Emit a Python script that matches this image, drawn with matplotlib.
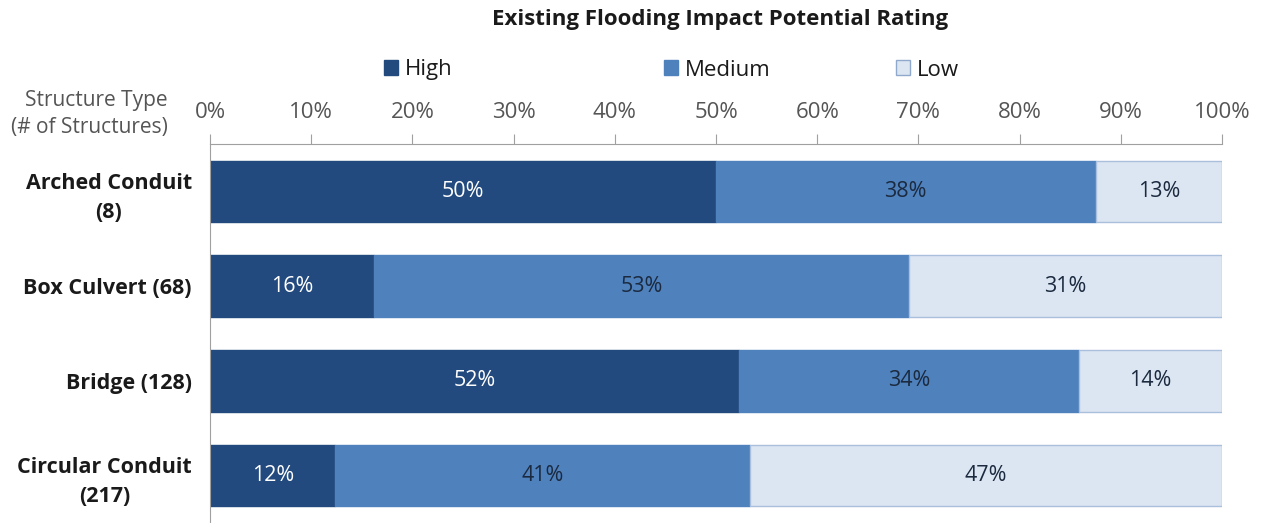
import matplotlib.pyplot as plt
from matplotlib.patches import Patch

plt.rcParams['font.family'] = ['Open Sans', 'DejaVu Sans']

# data (percent of structures per rating)
categories = ['Arched Conduit\n(8)', 'Box Culvert (68)', 'Bridge (128)', 'Circular Conduit\n(217)']
high = [50.0, 16.2, 52.3, 12.4]
medium = [37.5, 52.9, 33.6, 41.0]
low = [12.5, 30.9, 14.1, 46.6]
series_names = ['High', 'Medium', 'Low']
colors = ['#224A7E', '#4F81BD', '#DCE6F2']
label_colors = ['white', '#1B2A3F', '#1B2A3F']
xticks = [0, 10, 20, 30, 40, 50, 60, 70, 80, 90, 100]

fig = plt.figure(figsize=(12.69, 5.23), dpi=100)
ax = fig.add_axes([210 / 1269, 0.0, 1012 / 1269, (523 - 144) / 523])

y = list(range(len(categories)))
left = [0.0] * len(categories)
for vals, name, c, lc in zip([high, medium, low], series_names, colors, label_colors):
    edge = '#A9BFDC' if name == 'Low' else c
    bars = ax.barh(y, vals, left=left, height=0.65, color=c, edgecolor=edge, linewidth=1)
    for b, v, l in zip(bars, vals, left):
        ax.text(l + v / 2, b.get_y() + b.get_height() / 2, '%d%%' % int(v + 0.5),
                ha='center', va='center', color=lc, fontsize=15.5)
    left = [a + b for a, b in zip(left, vals)]

ax.set_xlim(0, 100)
ax.set_ylim(3.5, -0.5)
ax.set_xticks(xticks)
ax.set_xticklabels(['%d%%' % t for t in xticks], fontsize=16, color='#555555')
ax.xaxis.tick_top()
ax.tick_params(axis='x', direction='out', length=7, color='#A0A0A0', pad=8)
ax.set_yticks(y)
ax.set_yticklabels(categories, fontsize=15.5, fontweight='bold', color='#1A1A1A',
                   multialignment='center', linespacing=1.5)
ax.tick_params(axis='y', length=0, pad=13)
for s in ['right', 'bottom']:
    ax.spines[s].set_visible(False)
ax.spines['top'].set_color('#A0A0A0')
ax.spines['left'].set_color('#A0A0A0')

fig.text(168 / 1269, 1 - 114 / 523, 'Structure Type\n(# of Structures)', ha='right', va='center',
         fontsize=15, color='#555555', multialignment='right', linespacing=1.35)

fig.text(720 / 1269, 1 - 19 / 523, 'Existing Flooding Impact Potential Rating',
         ha='center', va='center', fontsize=16, fontweight='bold', color='#1A1A1A')

# legend entries, each placed separately
for name, c, xpos in zip(series_names, colors, [384, 664, 896]):
    h = Patch(facecolor=c, edgecolor='#8FA9CC' if name == 'Low' else c)
    leg = fig.legend(handles=[h], labels=[name], loc='center left',
                     bbox_to_anchor=(xpos / 1269, 1 - 70 / 523), frameon=False,
                     fontsize=16, handlelength=0.65, handleheight=0.65, handletextpad=0.3,
                     borderpad=0, borderaxespad=0)
    for t in leg.get_texts():
        t.set_color('#1A1A1A')

fig.savefig('out.png', dpi=100)
